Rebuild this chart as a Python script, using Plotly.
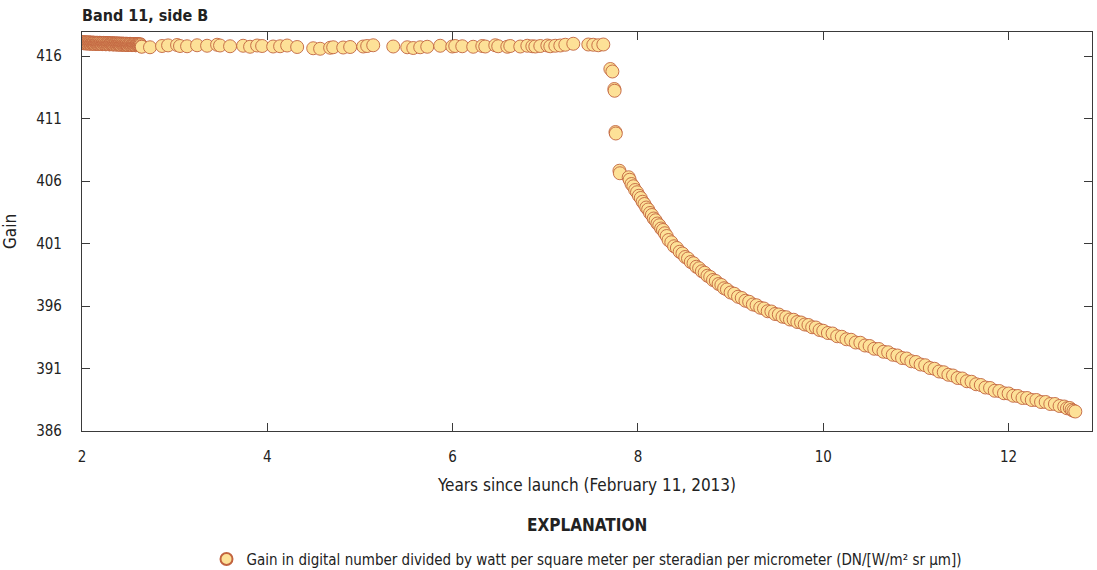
import plotly.graph_objects as go

FONT = "DejaVu Sans Condensed, Liberation Sans Narrow, Roboto Condensed, Arial Narrow, sans-serif"

# Early dense calibration period
dense_years = [2.000, 2.005, 2.010, 2.015, 2.020, 2.025, 2.030, 2.035, 2.040, 2.045, 2.050, 2.055, 2.060,
               2.065, 2.070, 2.075, 2.080, 2.085, 2.090, 2.095, 2.100, 2.105, 2.110, 2.115, 2.120, 2.125,
               2.130, 2.135, 2.140, 2.145, 2.150, 2.155, 2.160, 2.165, 2.170, 2.175, 2.180, 2.185, 2.190,
               2.195, 2.200, 2.205, 2.210, 2.215, 2.220, 2.225, 2.230, 2.235, 2.240, 2.245, 2.250, 2.255,
               2.260, 2.265, 2.270, 2.275, 2.280, 2.285, 2.290, 2.295, 2.300, 2.305, 2.310, 2.315, 2.320,
               2.325, 2.330, 2.335, 2.340, 2.345, 2.350, 2.355, 2.360, 2.365, 2.370, 2.375, 2.380, 2.385,
               2.390, 2.395, 2.400, 2.405, 2.410, 2.415, 2.420, 2.425, 2.430, 2.435, 2.440, 2.445, 2.450,
               2.455, 2.460, 2.465, 2.470, 2.475, 2.480, 2.485, 2.490, 2.495, 2.500, 2.505, 2.510, 2.515,
               2.520, 2.525, 2.530, 2.535, 2.540, 2.545, 2.550, 2.555, 2.560, 2.565, 2.570, 2.575, 2.580,
               2.585, 2.590, 2.595, 2.600, 2.605, 2.610, 2.615, 2.620, 2.625, 2.630, 2.635, 2.640, 2.645]
dense_gain = [417.10, 417.04, 417.06, 417.12, 417.02, 417.08, 417.04, 417.10, 417.00, 417.06, 417.08, 417.02,
              417.00, 417.07, 417.10, 417.01, 417.02, 417.08, 417.06, 416.99, 416.98, 417.05, 417.08, 417.00,
              417.02, 417.07, 417.05, 416.98, 416.97, 417.04, 417.06, 417.00, 417.00, 417.06, 417.04, 416.97,
              416.96, 417.03, 417.06, 416.99, 416.99, 417.05, 417.03, 416.96, 416.95, 417.02, 417.05, 416.98,
              416.98, 417.04, 417.02, 416.95, 416.94, 417.01, 417.03, 416.97, 416.97, 417.03, 417.01, 416.94,
              416.93, 417.00, 417.02, 416.96, 416.96, 417.02, 417.00, 416.93, 416.92, 416.99, 417.01, 416.95,
              416.95, 417.01, 416.99, 416.92, 416.91, 416.98, 417.00, 416.94, 416.94, 417.00, 416.98, 416.91,
              416.90, 416.97, 416.99, 416.93, 416.93, 416.99, 416.97, 416.90, 416.89, 416.96, 416.98, 416.92,
              416.92, 416.98, 416.96, 416.89, 416.88, 416.95, 416.97, 416.91, 416.91, 416.97, 416.95, 416.88,
              416.87, 416.94, 416.96, 416.90, 416.90, 416.96, 416.94, 416.87, 416.86, 416.93, 416.95, 416.89,
              416.89, 416.95, 416.93, 416.86, 416.85, 416.92, 416.94, 416.88]

# Flat period
flat_years = [2.734, 2.864, 2.929, 3.026, 3.058, 3.134, 3.242, 3.350, 3.458, 3.490, 3.598, 3.739, 3.814,
              3.890, 3.944, 4.063, 4.138, 4.214, 4.322, 4.495, 4.570, 4.678, 4.711, 4.819, 4.894, 5.035,
              5.078, 5.143, 5.359, 5.510, 5.575, 5.650, 5.726, 5.866, 5.996, 6.028, 6.104, 6.222, 6.320,
              6.352, 6.460, 6.492, 6.590, 6.622, 6.730, 6.806, 6.860, 6.892, 6.946, 7.022, 7.054, 7.108,
              7.162, 7.216, 7.302, 7.464, 7.518, 7.572, 7.626, 7.702, 7.724]
flat_gain = [416.78, 416.74, 416.70, 416.80, 416.85, 416.88, 416.80, 416.78, 416.86, 416.82, 416.90, 416.84,
             416.78, 416.82, 416.74, 416.84, 416.80, 416.76, 416.78, 416.84, 416.72, 416.62, 416.58, 416.66,
             416.70, 416.68, 416.72, 416.76, 416.80, 416.86, 416.76, 416.70, 416.64, 416.70, 416.74, 416.82,
             416.76, 416.80, 416.78, 416.74, 416.80, 416.76, 416.86, 416.78, 416.74, 416.80, 416.76, 416.82,
             416.78, 416.76, 416.80, 416.84, 416.78, 416.82, 416.84, 416.90, 416.98, 416.92, 416.90, 416.86,
             416.92]

# Sudden drop
drop_years = [7.745, 7.748, 7.757, 7.761, 7.800, 7.805]
drop_gain = [414.96, 414.76, 413.36, 413.22, 409.92, 409.80]

# Decay period
decay_years = [7.90, 7.91, 7.93, 7.95, 7.97, 7.99, 8.01, 8.03, 8.05, 8.07, 8.09, 8.11, 8.13, 8.15, 8.17,
               8.19, 8.21, 8.23, 8.25, 8.27, 8.29, 8.31, 8.33, 8.36, 8.39, 8.42, 8.45, 8.48, 8.51, 8.54,
               8.57, 8.60, 8.63, 8.66, 8.69, 8.72, 8.75, 8.78, 8.81, 8.84, 8.87, 8.90, 8.93, 8.96, 9.00,
               9.04, 9.08, 9.12, 9.16, 9.20, 9.24, 9.28, 9.32, 9.36, 9.40, 9.44, 9.48, 9.52, 9.56, 9.60,
               9.64, 9.68, 9.72, 9.76, 9.80, 9.84, 9.88, 9.92, 9.96, 10.00, 10.05, 10.10, 10.15, 10.20,
               10.25, 10.30, 10.35, 10.40, 10.45, 10.50, 10.55, 10.60, 10.65, 10.70, 10.75, 10.80, 10.85,
               10.90, 10.95, 11.00, 11.05, 11.10, 11.15, 11.20, 11.25, 11.30, 11.35, 11.40, 11.45, 11.50,
               11.55, 11.60, 11.65, 11.70, 11.75, 11.80, 11.85, 11.90, 11.95, 12.00, 12.05, 12.10, 12.15,
               12.20, 12.25, 12.30, 12.35, 12.40, 12.45, 12.50, 12.55, 12.60, 12.63, 12.66, 12.68, 12.70,
               12.72, 12.74, 12.75]
decay_gain = [406.82, 406.62, 406.30, 406.10, 405.76, 405.58, 405.28, 405.10, 404.82, 404.64, 404.34, 404.16,
              403.88, 403.72, 403.44, 403.28, 403.00, 402.86, 402.60, 402.46, 402.20, 402.08, 401.82, 401.60,
              401.28, 401.10, 400.78, 400.64, 400.34, 400.20, 399.92, 399.80, 399.52, 399.42, 399.14, 399.02,
              398.78, 398.66, 398.42, 398.32, 398.08, 398.00, 397.76, 397.68, 397.42, 397.32, 397.08, 396.98,
              396.74, 396.64, 396.42, 396.34, 396.12, 396.06, 395.86, 395.80, 395.58, 395.56, 395.36, 395.32,
              395.14, 395.10, 394.92, 394.90, 394.72, 394.68, 394.52, 394.48, 394.30, 394.28, 394.08, 394.02,
              393.84, 393.80, 393.58, 393.54, 393.34, 393.30, 393.08, 393.06, 392.84, 392.80, 392.58, 392.56,
              392.34, 392.30, 392.10, 392.04, 391.84, 391.80, 391.58, 391.52, 391.32, 391.26, 391.04, 390.98,
              390.76, 390.70, 390.50, 390.44, 390.24, 390.20, 389.98, 389.94, 389.74, 389.68, 389.48, 389.44,
              389.22, 389.20, 389.02, 389.00, 388.82, 388.80, 388.64, 388.64, 388.48, 388.48, 388.32, 388.32,
              388.16, 388.16, 388.00, 387.96, 387.82, 387.84, 387.70, 387.62, 387.56]

years = dense_years + flat_years + drop_years + decay_years
gain = dense_gain + flat_gain + drop_gain + decay_gain

x_ticks = [2, 4, 6, 8, 10, 12]
y_ticks = [386, 391, 396, 401, 406, 411, 416]

FILL = "#FDE197"
EDGE = "#C2643F"

fig = go.Figure()
fig.add_trace(go.Scatter(
    x=years, y=gain, mode="markers",
    name="Gain in digital number divided by watt per square meter per steradian per micrometer (DN/[W/m\u00b2 sr \u00b5m])",
    marker=dict(size=13, color=FILL, line=dict(color=EDGE, width=0.9)),
    cliponaxis=True,
))

axis_common = dict(
    showgrid=False, zeroline=False, showline=True, linecolor="#3a3a3a", linewidth=1.2,
    mirror="ticks", ticks="inside", ticklen=8, tickcolor="#3a3a3a", tickwidth=1.2,
    tickfont=dict(family=FONT, size=15, color="#222"), automargin=False,
)

fig.update_xaxes(range=[2, 12.9], tickvals=x_ticks, ticktext=[str(v) for v in x_ticks],
                 title=dict(text="Years since launch (February 11, 2013)",
                            font=dict(family=FONT, size=17, color="#222"), standoff=14),
                 ticklabelstandoff=12, **axis_common)
fig.update_yaxes(range=[386, 417.92], tickvals=y_ticks, ticktext=[str(v) for v in y_ticks],
                 title=dict(text="Gain", font=dict(family=FONT, size=17, color="#222"), standoff=16),
                 ticklabelstandoff=16, **axis_common)

fig.update_layout(
    width=1097, height=570,
    margin=dict(l=82, r=5, t=32, b=139, autoexpand=False),
    plot_bgcolor="white", paper_bgcolor="white",
    font=dict(family=FONT, color="#222"),
    showlegend=True,
    legend=dict(orientation="h", x=0.5, xanchor="center", y=-0.28, yanchor="top",
                font=dict(family=FONT, size=15, color="#222"), itemsizing="constant"),
    annotations=[
        dict(text="<b>Band 11, side B</b>", xref="paper", yref="paper", x=-0.002, y=1.0,
             xanchor="left", yanchor="bottom", yshift=5, showarrow=False,
             font=dict(family=FONT, size=16, color="#222")),
        dict(text="<b>EXPLANATION</b>", xref="paper", yref="paper", x=0.5, y=-0.205,
             xanchor="center", yanchor="top", yshift=0, showarrow=False,
             font=dict(family=FONT, size=17, color="#222")),
    ],
)

fig.write_html("out.html", config={"displayModeBar": False},
               post_script="document.body.style.margin='0';document.body.style.overflow='hidden';")
